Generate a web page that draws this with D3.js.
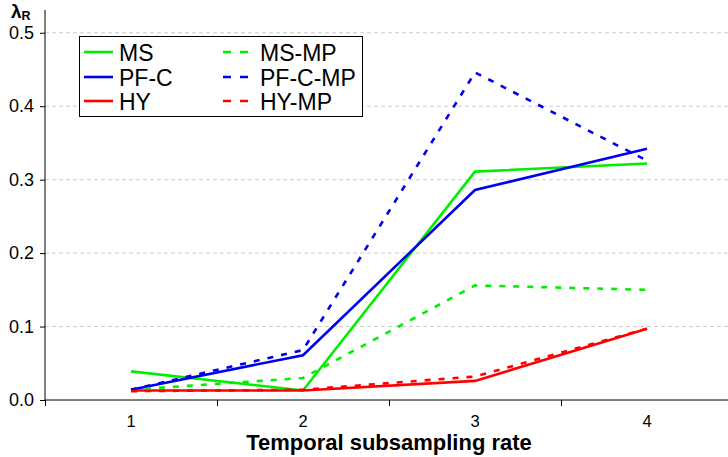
<!DOCTYPE html>
<html>
<head>
<meta charset="utf-8">
<script src="https://cdn.jsdelivr.net/npm/d3@7"></script>
<style>
  body { margin: 0; background: #fff; }
  svg { display: block; font-family: "Liberation Sans", Arial, sans-serif; }
</style>
</head>
<body>
<div id="chart"></div>
<script>
// data
const rates = [1, 2, 3, 4];
const ms = [0.039, 0.013, 0.311, 0.322];
const pfc = [0.014, 0.061, 0.286, 0.342];
const hy = [0.013, 0.013, 0.026, 0.097];
const msMp = [0.014, 0.030, 0.156, 0.150];
const pfcMp = [0.014, 0.068, 0.446, 0.326];
const hyMp = [0.012, 0.014, 0.032, 0.097];
const yTicks = [0, 0.1, 0.2, 0.3, 0.4, 0.5];
const seriesNames = ["MS", "PF-C", "HY", "MS-MP", "PF-C-MP", "HY-MP"];

const green = "#00ee00", blue = "#0000f0", red = "#ff0000";
const series = [
    { name: seriesNames[0], values: ms, color: green, dashed: false },
    { name: seriesNames[1], values: pfc, color: blue, dashed: false },
    { name: seriesNames[2], values: hy, color: red, dashed: false },
    { name: seriesNames[3], values: msMp, color: green, dashed: true },
    { name: seriesNames[4], values: pfcMp, color: blue, dashed: true },
    { name: seriesNames[5], values: hyMp, color: red, dashed: true }
];

// set the dimensions
const width = 728, height = 457;
const left = 45, bottom = 400;

const svg = d3.select("#chart").append("svg")
    .attr("width", width)
    .attr("height", height);

// scales: categories sit in the middle of unit wide slots
const x = d3.scaleLinear().domain([0.5, 4.5]).range([left, left + 688]);
const y = d3.scaleLinear().domain([0, 0.531]).range([bottom, 10]);

// grid lines
svg.append("g")
    .selectAll("line")
    .data(yTicks.filter(d => d > 0))
    .enter().append("line")
    .attr("x1", left)
    .attr("x2", width)
    .attr("y1", d => y(d))
    .attr("y2", d => y(d))
    .attr("stroke", "#cccccc")
    .attr("stroke-width", 1)
    .attr("stroke-dasharray", "4,3");

// Y axis
const yAxis = svg.append("g")
    .attr("transform", "translate(" + left + ",0)")
    .call(d3.axisLeft(y).tickValues(yTicks).tickFormat(d3.format(".1f")).tickSize(5).tickPadding(6));
yAxis.select(".domain").remove();
yAxis.append("line")
    .attr("x1", 0).attr("x2", 0)
    .attr("y1", y.range()[1]).attr("y2", bottom)
    .attr("stroke", "#000");
yAxis.selectAll("text")
    .attr("font-size", 18)
    .attr("font-family", "Liberation Sans, Arial, sans-serif")
    .attr("fill", "#000");

// X axis: ticks on slot boundaries, labels in the middle
const xAxis = svg.append("g")
    .attr("transform", "translate(0," + bottom + ")")
    .call(d3.axisBottom(x).tickValues([0.5, 1.5, 2.5, 3.5]).tickFormat("").tickSize(6));
xAxis.select(".domain").remove();
xAxis.append("line")
    .attr("x1", left).attr("x2", width)
    .attr("stroke", "#000");

svg.append("g")
    .selectAll("text")
    .data(rates)
    .enter().append("text")
    .attr("x", d => x(d))
    .attr("y", bottom + 27)
    .attr("text-anchor", "middle")
    .attr("font-size", 16.5)
    .text(d => d);

// axis titles
svg.append("text")
    .attr("x", x(2.5))
    .attr("y", 450)
    .attr("text-anchor", "middle")
    .attr("font-size", 22)
    .attr("font-weight", "bold")
    .text("Temporal subsampling rate");

const yTitle = svg.append("text")
    .attr("x", 11)
    .attr("y", 18)
    .attr("font-weight", "bold")
    .attr("font-size", 19);
yTitle.append("tspan").text("λ");
yTitle.append("tspan").attr("font-size", 12.5).attr("dy", 2).text("R");

// Add the lines
const line = d3.line()
    .x((d, i) => x(rates[i]))
    .y(d => y(d));

svg.append("g")
    .selectAll("path")
    .data(series)
    .enter().append("path")
    .attr("d", d => line(d.values))
    .attr("fill", "none")
    .attr("stroke", d => d.color)
    .attr("stroke-width", 2.6)
    .attr("stroke-dasharray", d => d.dashed ? "6,8" : null);

// legend
const legend = svg.append("g");
legend.append("rect")
    .attr("x", 79.5).attr("y", 36.5)
    .attr("width", 283).attr("height", 80)
    .attr("fill", "#fff")
    .attr("stroke", "#000")
    .attr("stroke-width", 1);

const rowY = [52, 77, 101];
const items = legend.selectAll("g.item")
    .data(series)
    .enter().append("g")
    .attr("transform", (d, i) => "translate(" + (i < 3 ? 84 : 223) + "," + rowY[i % 3] + ")");
items.append("line")
    .attr("x1", 0)
    .attr("x2", (d, i) => i < 3 ? 29 : 25)
    .attr("stroke", d => d.color)
    .attr("stroke-width", 2.6)
    .attr("stroke-dasharray", d => d.dashed ? "8,9" : null);
items.append("text")
    .attr("x", (d, i) => i < 3 ? 35 : 37)
    .attr("y", 8.5)
    .attr("font-size", 23)
    .text(d => d.name);
</script>
</body>
</html>
